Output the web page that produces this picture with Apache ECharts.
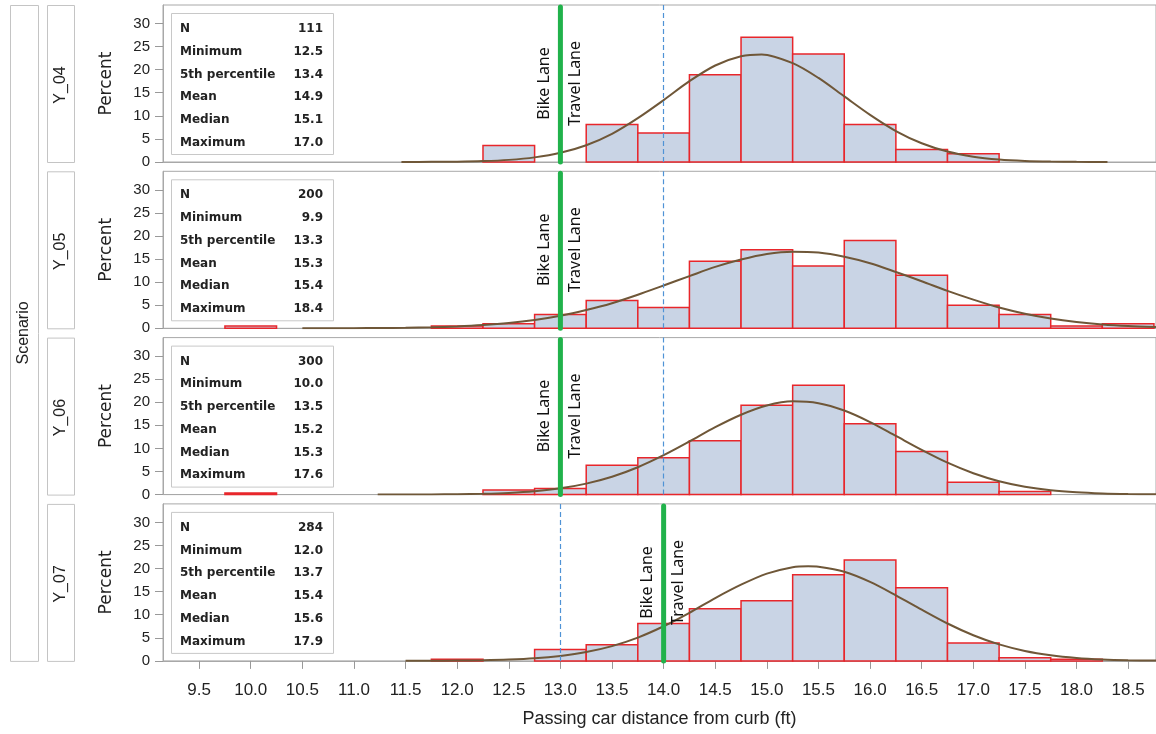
<!DOCTYPE html>
<html>
<head>
<meta charset="utf-8">
<script src="https://cdn.jsdelivr.net/npm/echarts@6/dist/echarts.min.js"></script>
<style>
  html, body { margin: 0; padding: 0; background: #ffffff; }
  #chart { width: 1156px; height: 734px; }
</style>
</head>
<body>
<div id="chart"></div>
<script>
// ---------------- DATA ----------------
const scenarios = ['Y_04', 'Y_05', 'Y_06', 'Y_07'];
const xTicks = [9.5, 10.0, 10.5, 11.0, 11.5, 12.0, 12.5, 13.0, 13.5, 14.0, 14.5, 15.0, 15.5, 16.0, 16.5, 17.0, 17.5, 18.0, 18.5];
const yTicks = [0, 5, 10, 15, 20, 25, 30];

const statLabels = ['N', 'Minimum', '5th percentile', 'Mean', 'Median', 'Maximum'];
const stats04 = ['111', '12.5', '13.4', '14.9', '15.1', '17.0'];
const stats05 = ['200', '9.9', '13.3', '15.3', '15.4', '18.4'];
const stats06 = ['300', '10.0', '13.5', '15.2', '15.3', '17.6'];
const stats07 = ['284', '12.0', '13.7', '15.4', '15.6', '17.9'];

// histogram bins (bin centre, percent)
const bins04 = [12.5, 13.5, 14.0, 14.5, 15.0, 15.5, 16.0, 16.5, 17.0];
const pct04  = [3.6, 8.1, 6.3, 18.9, 27.0, 23.4, 8.1, 2.7, 1.8];

const bins05 = [10.0, 12.0, 12.5, 13.0, 13.5, 14.0, 14.5, 15.0, 15.5, 16.0, 16.5, 17.0, 17.5, 18.0, 18.5];
const pct05  = [0.5, 0.5, 1.0, 3.0, 6.0, 4.5, 14.5, 17.0, 13.5, 19.0, 11.5, 5.0, 3.0, 0.5, 1.0];

const bins06 = [10.0, 12.5, 13.0, 13.5, 14.0, 14.5, 15.0, 15.5, 16.0, 16.5, 17.0, 17.5];
const pct06  = [0.33, 1.0, 1.33, 6.33, 8.0, 11.67, 19.33, 23.67, 15.33, 9.33, 2.67, 0.67];

const bins07 = [12.0, 13.0, 13.5, 14.0, 14.5, 15.0, 15.5, 16.0, 16.5, 17.0, 17.5, 18.0];
const pct07  = [0.35, 2.46, 3.52, 8.1, 11.27, 13.03, 18.66, 21.83, 15.85, 3.87, 0.7, 0.35];

// fitted density curves: [distance, percent]
const curve04 = [[11.46,0.01],[11.75,0.03],[12.0,0.07],[12.25,0.19],[12.5,0.46],[12.75,1.0],[13.0,1.99],[13.25,3.63],[13.5,6.1],[13.75,9.5],[14.0,13.4],[14.25,17.5],[14.5,20.9],[14.75,22.9],[14.95,23.3],[15.25,21.4],[15.5,18.2],[15.75,14.2],[16.0,10.2],[16.25,6.7],[16.5,4.06],[16.75,2.26],[17.0,1.15],[17.25,0.54],[17.5,0.23],[17.75,0.09],[18.0,0.03],[18.3,0.01]];
const curve05 = [[10.5,0.01],[10.75,0.01],[11.0,0.03],[11.25,0.06],[11.5,0.12],[11.75,0.22],[12.0,0.40],[12.25,0.69],[12.5,1.13],[12.75,1.79],[13.0,2.71],[13.25,3.95],[13.5,5.44],[13.75,7.27],[14.0,9.27],[14.25,11.3],[14.5,13.3],[14.75,14.9],[15.0,16.1],[15.25,16.6],[15.5,16.4],[15.75,15.5],[16.0,14.1],[16.25,12.2],[16.5,10.2],[16.75,8.1],[17.0,6.2],[17.25,4.5],[17.5,3.16],[17.75,2.12],[18.0,1.37],[18.25,0.84],[18.5,0.50],[18.77,0.27]];
const curve06 = [[11.23,0.01],[11.5,0.01],[11.75,0.03],[12.0,0.08],[12.25,0.18],[12.5,0.37],[12.75,0.73],[13.0,1.36],[13.25,2.38],[13.5,3.87],[13.75,5.93],[14.0,8.53],[14.25,11.5],[14.5,14.6],[14.75,17.3],[15.0,19.3],[15.25,20.2],[15.5,19.8],[15.75,18.2],[16.0,15.7],[16.25,12.7],[16.5,9.69],[16.75,6.91],[17.0,4.63],[17.25,2.90],[17.5,1.71],[17.75,0.94],[18.0,0.49],[18.25,0.24],[18.5,0.11],[18.77,0.05]];
const curve07 = [[11.5,0.01],[11.75,0.02],[12.0,0.06],[12.25,0.13],[12.5,0.28],[12.75,0.56],[13.0,1.08],[13.25,1.91],[13.5,3.2],[13.75,5.05],[14.0,7.5],[14.25,10.4],[14.5,13.6],[14.75,16.5],[15.0,18.9],[15.25,20.3],[15.4,20.5],[15.5,20.4],[15.75,19.3],[16.0,17.1],[16.25,14.2],[16.5,11.1],[16.75,8.1],[17.0,5.56],[17.25,3.57],[17.5,2.16],[17.75,1.23],[18.0,0.65],[18.25,0.32],[18.5,0.15],[18.77,0.07]];

const bikeLaneX = [13.0, 13.0, 13.0, 14.0];   // thick green line
const refLineX  = [14.0, 14.0, 14.0, 13.0];   // thin dashed blue line

// ---------------- LAYOUT / STYLE ----------------
const X_MIN = 9.15, X_MAX = 18.77, Y_MAX = 34, BIN_W = 0.5, LABEL_Y = 17;
const GRID_LEFT = 163, GRID_W = 994, PANEL_TOP0 = 5, PANEL_STEP = 166.3, PANEL_H = 157;
const FRAME = '#a8a8a8';
const BAR_FILL = '#c9d4e5', BAR_EDGE = '#e8262b', CURVE = '#6f5738', GREEN = '#21b24b', BLUE = '#4f93d6';

const allBins = [bins04, bins05, bins06, bins07];
const allPct = [pct04, pct05, pct06, pct07];
const allCurves = [curve04, curve05, curve06, curve07];
const allStats = [stats04, stats05, stats06, stats07];

const chart = echarts.init(document.getElementById('chart'), null, { renderer: 'canvas' });

const grids = [], xAxes = [], yAxes = [], series = [], graphics = [];

function panelTop(i) { return PANEL_TOP0 + PANEL_STEP * i; }

for (let i = 0; i < 4; i++) {
  const last = i === 3;
  const top = panelTop(i);
  grids.push({ left: GRID_LEFT, top: top, width: GRID_W, height: PANEL_H,
    show: true, borderColor: FRAME, borderWidth: 1, backgroundColor: '#fff' });

  xAxes.push({
    type: 'value', gridIndex: i, min: X_MIN, max: X_MAX,
    splitLine: { show: false },
    axisLine: { show: true, onZero: false, lineStyle: { color: FRAME, width: 1 } },
    axisTick: { show: last, length: 8, lineStyle: { color: '#999' }, customValues: xTicks },
    axisLabel: { show: last, customValues: xTicks, margin: 21,
      formatter: v => v.toFixed(1),
      fontFamily: 'Liberation Sans', fontSize: 17, color: '#222' },
    name: last ? 'Passing car distance from curb (ft)' : '',
    nameLocation: 'middle', nameGap: 49,
    nameTextStyle: { fontFamily: 'Liberation Sans', fontSize: 18, color: '#222' }
  });

  yAxes.push({
    type: 'value', gridIndex: i, min: 0, max: Y_MAX,
    splitLine: { show: false },
    axisLine: { show: true, lineStyle: { color: FRAME, width: 1 } },
    axisTick: { show: true, length: 8, lineStyle: { color: '#999' }, customValues: yTicks },
    axisLabel: { customValues: yTicks, margin: 13,
      fontFamily: 'Liberation Sans', fontSize: 15, color: '#222' },
    name: 'Percent', nameLocation: 'middle', nameGap: 48, nameRotate: 90,
    nameTextStyle: { fontFamily: 'DejaVu Sans', fontSize: 17, color: '#222' }
  });

  // histogram
  series.push({
    type: 'custom', xAxisIndex: i, yAxisIndex: i, z: 2,
    data: allBins[i].map((c, k) => [c, allPct[i][k]]),
    renderItem: function (params, api) {
      const c = api.value(0), v = api.value(1);
      const tl = api.coord([c - BIN_W / 2, v]);
      const br = api.coord([c + BIN_W / 2, 0]);
      return { type: 'rect',
        shape: { x: tl[0], y: tl[1], width: br[0] - tl[0], height: br[1] - tl[1] },
        style: { fill: BAR_FILL, stroke: BAR_EDGE, lineWidth: 1.5 } };
    }
  });

  // density curve + dashed reference line
  series.push({
    type: 'line', xAxisIndex: i, yAxisIndex: i, z: 3,
    data: allCurves[i], smooth: 0.3, showSymbol: false, symbol: 'none',
    lineStyle: { color: CURVE, width: 2 },
    markLine: { silent: true, symbol: ['none', 'none'], label: { show: false },
      lineStyle: { color: BLUE, type: [5, 3], width: 1.2 },
      data: [{ xAxis: refLineX[i] }] }
  });

  // bike lane / travel lane divider
  series.push({
    type: 'custom', xAxisIndex: i, yAxisIndex: i, z: 5,
    data: [[bikeLaneX[i], LABEL_Y]],
    renderItem: function (params, api) {
      const x = api.value(0);
      const p0 = api.coord([x, 0]);
      const p1 = api.coord([x, Y_MAX]);
      const pl = api.coord([x, api.value(1)]);
      return { type: 'group', children: [
        { type: 'line', shape: { x1: p0[0], y1: p0[1], x2: p1[0], y2: p1[1] + 2 },
          style: { stroke: GREEN, lineWidth: 5, lineCap: 'round' } },
        { type: 'text', x: p0[0] - 16, y: pl[1], rotation: Math.PI / 2,
          style: { text: 'Bike Lane', align: 'center', verticalAlign: 'middle',
            font: '16px "Noto Sans"', fill: '#111' } },
        { type: 'text', x: p0[0] + 15, y: pl[1], rotation: Math.PI / 2,
          style: { text: 'Travel Lane', align: 'center', verticalAlign: 'middle',
            font: '16px "Noto Sans"', fill: '#111' } }
      ] };
    }
  });

  // scenario strip box
  graphics.push({ type: 'rect', left: 47, top: top, z: 10,
    shape: { width: 27, height: PANEL_H }, style: { fill: '#fff', stroke: '#c4c4c4', lineWidth: 1 } });
  graphics.push({ type: 'text', x: 61, y: top + 80, rotation: Math.PI / 2, z: 11,
    style: { text: scenarios[i], align: 'center', verticalAlign: 'middle',
      font: '16px "Liberation Sans"', fill: '#222' } });

  // statistics inset
  graphics.push({ type: 'rect', left: 171, top: top + 8, z: 10,
    shape: { width: 162, height: 141 }, style: { fill: '#fff', stroke: '#c8c8c8', lineWidth: 1 } });
  for (let r = 0; r < statLabels.length; r++) {
    const yy = top + 24 + 22.7 * r;
    graphics.push({ type: 'text', x: 180, y: yy, z: 11,
      style: { text: statLabels[r], align: 'left', verticalAlign: 'middle',
        font: 'bold 12px "DejaVu Sans"', fill: '#222' } });
    graphics.push({ type: 'text', x: 323, y: yy, z: 11,
      style: { text: allStats[i][r], align: 'right', verticalAlign: 'middle',
        font: 'bold 12px "DejaVu Sans"', fill: '#222' } });
  }
}

// outer "Scenario" strip
graphics.push({ type: 'rect', left: 10, top: 5, z: 10,
  shape: { width: 28, height: panelTop(3) + PANEL_H - 5 }, style: { fill: '#fff', stroke: '#c4c4c4', lineWidth: 1 } });
graphics.push({ type: 'text', x: 24, y: (5 + panelTop(3) + PANEL_H) / 2, rotation: Math.PI / 2, z: 11,
  style: { text: 'Scenario', align: 'center', verticalAlign: 'middle',
    font: '16px "Liberation Sans"', fill: '#222' } });

chart.setOption({
  animation: false,
  backgroundColor: '#ffffff',
  grid: grids,
  xAxis: xAxes,
  yAxis: yAxes,
  series: series,
  graphic: { elements: graphics }
});
</script>
</body>
</html>
